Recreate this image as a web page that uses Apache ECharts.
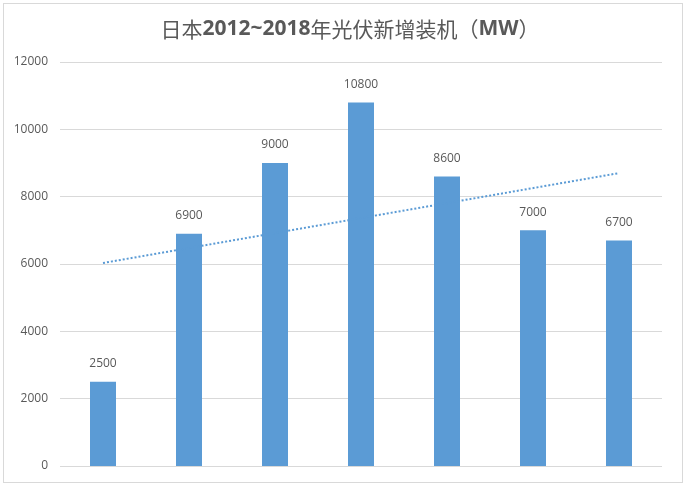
<!DOCTYPE html>
<html>
<head>
<meta charset="utf-8">
<script src="https://cdn.jsdelivr.net/npm/echarts@6/dist/echarts.min.js"></script>
<style>
  html, body { margin: 0; padding: 0; background: #fff; }
  #chart { width: 700px; height: 494px; }
  .frame { position: absolute; left: 3px; top: 3px; width: 680px; height: 480px; border: 1px solid #d9d9d9; box-sizing: border-box; pointer-events: none; }
</style>
</head>
<body>
<div id="chart"></div>
<div class="frame"></div>
<script>
const years = ['2012', '2013', '2014', '2015', '2016', '2017', '2018']
const installed = [2500, 6900, 9000, 10800, 8600, 7000, 6700]
// 趋势线，只读两端
const trend = [6030, null, null, null, null, null, 8700]

const chart = echarts.init(document.getElementById('chart'))
chart.setOption({
  animation: false,
  title: {
    text: '{a|日本}{b|2012~2018}{a|年光伏新增装机（}{b|MW}{a|）}',
    left: 'center',
    top: 14,
    textStyle: {
      fontWeight: 'normal',
      rich: {
        a: {
          fontFamily: 'Noto Sans CJK SC',
          fontSize: 21,
          fontWeight: 'normal',
          color: '#595959'
        },
        b: {
          fontFamily: 'Open Sans',
          fontSize: 21,
          fontWeight: 'bold',
          color: '#595959'
        }
      }
    }
  },
  grid: {
    left: 60,
    right: 38,
    top: 62,
    bottom: 28
  },
  xAxis: {
    type: 'category',
    data: years,
    axisLine: { show: false },
    axisTick: { show: false },
    axisLabel: { show: false }
  },
  yAxis: {
    type: 'value',
    min: 0,
    max: 12000,
    interval: 2000,
    axisLine: { show: false },
    axisTick: { show: false },
    axisLabel: {
      color: '#595959',
      fontSize: 12,
      fontFamily: 'Open Sans',
      margin: 12,
      formatter: (v) => String(v)
    },
    splitLine: {
      lineStyle: { color: '#d9d9d9', width: 1 }
    }
  },
  series: [
    {
      name: '新增装机',
      type: 'bar',
      data: installed,
      barWidth: 26,
      itemStyle: { color: '#5b9bd5' },
      label: {
        show: true,
        position: 'top',
        distance: 12,
        color: '#595959',
        fontSize: 12,
        fontFamily: 'Open Sans'
      }
    },
    {
      name: '趋势',
      type: 'line',
      data: trend,
      connectNulls: true,
      symbol: 'none',
      z: 5,
      lineStyle: {
        color: '#5b9bd5',
        width: 2,
        type: [2, 2]
      }
    }
  ]
})
</script>
</body>
</html>
